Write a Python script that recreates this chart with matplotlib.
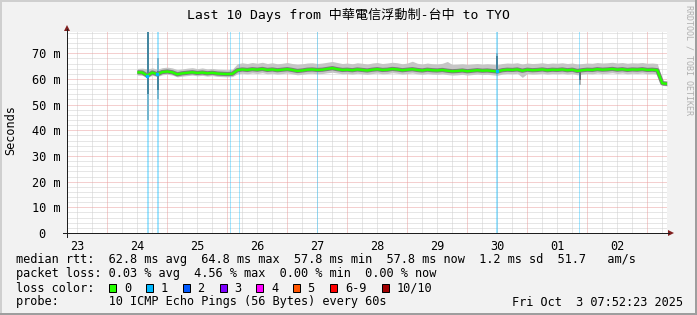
import matplotlib
matplotlib.use("Agg")
import matplotlib.pyplot as plt
from matplotlib.patches import Rectangle, Polygon
from matplotlib.lines import Line2D
import numpy as np

# ---------------- data ----------------
# x in days since 2025-09-23 00:00 ; window Sep 23 07:52 .. Oct 3 07:52
x_range = (0.328, 10.328)
day_labels = ["23", "24", "25", "26", "27", "28", "29", "30", "01", "02"]
y_ticks = [0, 10, 20, 30, 40, 50, 60, 70]
y_labels = ["0  ", "10 m", "20 m", "30 m", "40 m", "50 m", "60 m", "70 m"]
y_max = 78.4

first_sample_day = 1.5
sample_hours = 2

median_ms = [
    62.6, 62.5, 61.3, 62.5, 61.8, 62.7, 62.9, 62.6, 61.8, 62.2,
    62.4, 62.6, 62.3, 62.5, 62.2, 62.4, 62.1, 62.0, 61.9, 62.0,
    63.4, 63.7, 63.5, 63.8, 63.6, 63.9, 63.5, 63.7, 63.4, 63.6,
    63.8, 63.5, 63.1, 63.3, 63.6, 63.7, 63.5, 63.6, 63.9, 64.2,
    63.8, 63.5, 63.6, 63.4, 63.7, 63.5, 63.3, 63.6, 63.8, 63.5,
    63.6, 63.9, 63.7, 63.4, 63.6, 63.8, 63.5, 63.3, 63.6, 63.4,
    63.3, 63.5, 63.2, 63.0, 63.1, 63.3, 63.0, 63.2, 63.4, 63.2,
    63.3, 63.1, 62.9, 63.4, 63.6, 63.5, 63.7, 63.2, 63.6, 63.4,
    63.5, 63.7, 63.4, 63.6, 63.5, 63.7, 63.4, 63.6, 63.1, 63.4,
    63.6, 63.5, 63.8, 63.6, 63.7, 63.9, 63.6, 63.8, 63.5, 63.7,
    63.6, 63.8, 63.5, 63.6, 63.4, 58.3, 58.1,
]
smoke_hi_ms = [
    64.1, 64.2, 63.9, 64.3, 63.8, 64.4, 64.6, 64.3, 63.6, 63.9,
    64.2, 64.4, 64.0, 64.3, 63.9, 64.1, 63.8, 63.7, 63.6, 63.8,
    65.9, 66.3, 66.0, 66.4, 66.1, 66.5, 66.0, 66.3, 65.9, 66.1,
    66.4, 66.0, 65.7, 65.9, 66.2, 66.3, 66.0, 66.2, 66.5, 66.8,
    66.4, 66.0, 66.2, 65.9, 66.3, 66.1, 65.8, 66.2, 66.4, 66.0,
    66.2, 66.5, 66.3, 65.9, 66.2, 66.9, 66.1, 65.8, 66.2, 65.9,
    65.8, 66.1, 66.8, 65.6, 65.7, 65.9, 65.6, 65.8, 66.0, 65.7,
    65.9, 65.7, 65.5, 66.0, 66.2, 66.1, 66.3, 65.8, 66.2, 66.0,
    66.1, 66.3, 66.0, 66.2, 66.1, 66.3, 66.0, 66.2, 65.8, 66.0,
    66.2, 66.1, 66.4, 66.2, 66.3, 66.5, 66.2, 66.4, 66.1, 66.3,
    66.2, 66.4, 66.1, 66.2, 66.0, 59.4, 59.2,
]
smoke_lo_ms = [
    61.5, 61.4, 60.6, 61.4, 60.9, 61.6, 61.8, 61.5, 60.8, 61.1,
    61.3, 61.5, 61.2, 61.4, 61.1, 61.3, 61.0, 60.9, 60.8, 60.9,
    62.0, 62.2, 62.0, 62.3, 62.1, 62.4, 62.0, 62.2, 61.9, 62.1,
    62.3, 62.0, 61.6, 61.8, 62.1, 62.2, 62.0, 62.1, 62.4, 62.6,
    62.3, 62.0, 62.1, 61.9, 62.2, 62.0, 61.8, 62.1, 62.3, 62.0,
    62.1, 62.4, 62.2, 61.9, 62.1, 62.3, 62.0, 61.8, 62.1, 61.9,
    61.8, 62.0, 61.7, 61.5, 61.6, 61.8, 61.5, 61.7, 61.9, 61.7,
    61.8, 61.6, 61.4, 61.9, 62.1, 62.0, 62.2, 60.6, 62.1, 61.9,
    62.0, 62.2, 61.9, 62.1, 62.0, 62.2, 61.9, 62.1, 61.6, 61.9,
    62.1, 62.0, 62.3, 62.1, 62.2, 62.4, 62.1, 62.3, 62.0, 62.2,
    62.1, 62.3, 62.0, 62.1, 61.9, 57.5, 57.3,
]

# single samples with a wide ping spread
spike_day = [1.675, 1.842, 7.495, 8.87]
spike_hi_ms = [79.0, 68.0, 70.0, 63.5]
spike_lo_ms = [44.0, 52.0, 62.5, 57.5]
spike_core_hi_ms = [79.0, 63.0, 69.0, 62.8]
spike_core_lo_ms = [54.0, 55.5, 62.8, 59.5]

# packet-loss events (full-height bars)
loss_day = [1.683, 1.85, 3.05, 3.2, 4.5, 7.5, 8.867]
loss_minutes = [48, 48, 24, 24, 24, 48, 24]

loss_names = ["0", "1", "2", "3", "4", "5", "6-9", "10/10"]
loss_colors = ["#26ff00", "#00b8ff", "#0059ff", "#7e00ff", "#ff00ff",
               "#ff5500", "#ff0000", "#a10000"]

title = "Last 10 Days from 中華電信浮動制-台中 to TYO"
row_rtt = "median rtt:  62.8 ms avg  64.8 ms max  57.8 ms min  57.8 ms now  1.2 ms sd  51.7   am/s"
row_loss = "packet loss: 0.03 % avg  4.56 % max  0.00 % min  0.00 % now"
row_probe = "probe:       10 ICMP Echo Pings (56 Bytes) every 60s"
stamp = "Fri Oct  3 07:52:23 2025"

# ---------------- figure ----------------
W, H = 697, 315
fig = plt.figure(figsize=(W / 100, H / 100), dpi=100)
fig.patch.set_facecolor("#f2f2f2")

MONO = ["DejaVu Sans Mono", "Noto Sans CJK TC"]
FS = 8.55
PX = 0.72  # points per pixel


def fx(x):
    return x / W


def fy(y):
    return 1 - y / H


L, R, T, B = 67, 667, 31.7, 233
ax = fig.add_axes([fx(L), fy(B), (R - L) / W, (B - T) / H])
ax.set_facecolor("white")
ax.set_xlim(*x_range)
ax.set_ylim(0, y_max)
for s in ax.spines.values():
    s.set_visible(False)

# grid
minor_c = "#cfcfcf"
major_c = "#eba0a0"
dot = (0, (1, 1))
gkw = dict(lw=PX, ls=dot)
for k in range(2, int(y_max) + 1, 2):
    if k % 10:
        ax.axhline(k, color=minor_c, zorder=1, **gkw)
for k in range(10, int(y_max) + 1, 10):
    ax.axhline(k, color=major_c, zorder=1.2, **gkw)
q = 0.25
v = np.ceil(x_range[0] / q) * q
while v < x_range[1]:
    if abs(v - round(v)) > 1e-6:
        ax.axvline(v, color=minor_c, zorder=1, **gkw)
    else:
        ax.axvline(v, color=major_c, zorder=1.2, **gkw)
    v += q

# ticks / labels
ax.set_xticks([d + 0.5 for d in range(len(day_labels))], labels=day_labels)
ax.set_yticks(y_ticks, labels=y_labels)
ax.tick_params(axis="both", length=0, labelsize=FS)
ax.tick_params(axis="x", pad=5.2)
ax.tick_params(axis="y", pad=5.0)
for t in ax.get_xticklabels() + ax.get_yticklabels():
    t.set_family(MONO)

# data
days = first_sample_day + np.arange(len(median_ms)) * sample_hours / 24.0
ax.fill_between(days, smoke_lo_ms, smoke_hi_ms, color="#c6c6c6", lw=0, zorder=2)
ax.vlines(spike_day, spike_lo_ms, spike_hi_ms, color="#b4b4b4", lw=2 * PX, zorder=2.1)
ax.vlines(spike_day, spike_core_lo_ms, spike_core_hi_ms, color="#5a5a5a", lw=1.6 * PX, zorder=2.2)
for d, m in zip(loss_day, loss_minutes):
    half = m / 2 / 1440.0
    ax.axvspan(d - half, d + half, color="#00b8ff", alpha=0.36, lw=0, zorder=2.3)
ax.plot(days, median_ms, color="#7c7c7c", lw=4.2 * PX, zorder=2.5, solid_capstyle="butt")
ax.plot(days, median_ms, color=loss_colors[0], lw=2.4 * PX, zorder=2.7, solid_capstyle="butt")
idx = [int(np.argmin(np.abs(days - d))) for d in loss_day[:2]] + \
      [int(np.argmin(np.abs(days - loss_day[5])))]
ax.plot(days[idx], np.asarray(median_ms)[idx], ls="none", marker="s", ms=2.4 * PX,
        color=loss_colors[1], zorder=2.8)

# axis lines and arrows
axc = "#1f1f1f"
arrc = "#801f1f"
fig.add_artist(Line2D([fx(63), fx(669)], [fy(B), fy(B)], color=axc, lw=PX))
fig.add_artist(Line2D([fx(L), fx(L)], [fy(B + 4), fy(29)], color=axc, lw=PX))
fig.add_artist(Polygon([[fx(668), fy(B - 3)], [fx(674), fy(B)], [fx(668), fy(B + 3)]],
                       closed=True, color=arrc, lw=0))
fig.add_artist(Polygon([[fx(L - 3), fy(31)], [fx(L), fy(25)], [fx(L + 3), fy(31)]],
                       closed=True, color=arrc, lw=0))

# texts
fig.text(fx(348.5), fy(19.5), title, ha="center", va="baseline", family=MONO, fontsize=9.45)
fig.text(fx(11), fy(130.5), "Seconds", rotation=90, ha="center", va="center",
         family=MONO, fontsize=FS)
fig.text(fx(688.5), fy(60), "RRDTOOL / TOBI OETIKER", rotation=-90, ha="center",
         va="center", family=MONO, fontsize=6.0, color="#b0b0b0")

fig.text(fx(16), fy(263.5), row_rtt, ha="left", va="baseline", family=MONO, fontsize=FS)
fig.text(fx(16), fy(277.5), row_loss, ha="left", va="baseline", family=MONO, fontsize=FS)
fig.text(fx(16), fy(291.5), "loss color:", ha="left", va="baseline", family=MONO, fontsize=FS)
sq_x = [109, 146, 183, 219.5, 256, 293, 330, 382]
lab_x = [124, 160.5, 197, 234, 271, 307.5, 345, 397]
for name, col, sx, lx in zip(loss_names, loss_colors, sq_x, lab_x):
    fig.add_artist(Rectangle((fx(sx), fy(291.5)), 7 / W, 8 / H, facecolor=col,
                             edgecolor="black", lw=PX))
    fig.text(fx(lx), fy(291.5), name, ha="left", va="baseline", family=MONO, fontsize=FS)
fig.text(fx(16), fy(305.5), row_probe, ha="left", va="baseline", family=MONO, fontsize=FS)
fig.text(fx(512), fy(305.5), stamp, ha="left", va="baseline", family=MONO, fontsize=FS)

# 3-D frame
fig.add_artist(Rectangle((0, fy(2)), 1, 2 / H, color="#cfcfcf", lw=0))
fig.add_artist(Rectangle((0, 0), 2 / W, 1, color="#cfcfcf", lw=0))
fig.add_artist(Rectangle((0, 0), 1, 2 / H, color="#9e9e9e", lw=0))
fig.add_artist(Rectangle((fx(W - 2), 0), 2 / W, 1, color="#9e9e9e", lw=0))

fig.savefig("out.png", dpi=100, facecolor=fig.get_facecolor())
